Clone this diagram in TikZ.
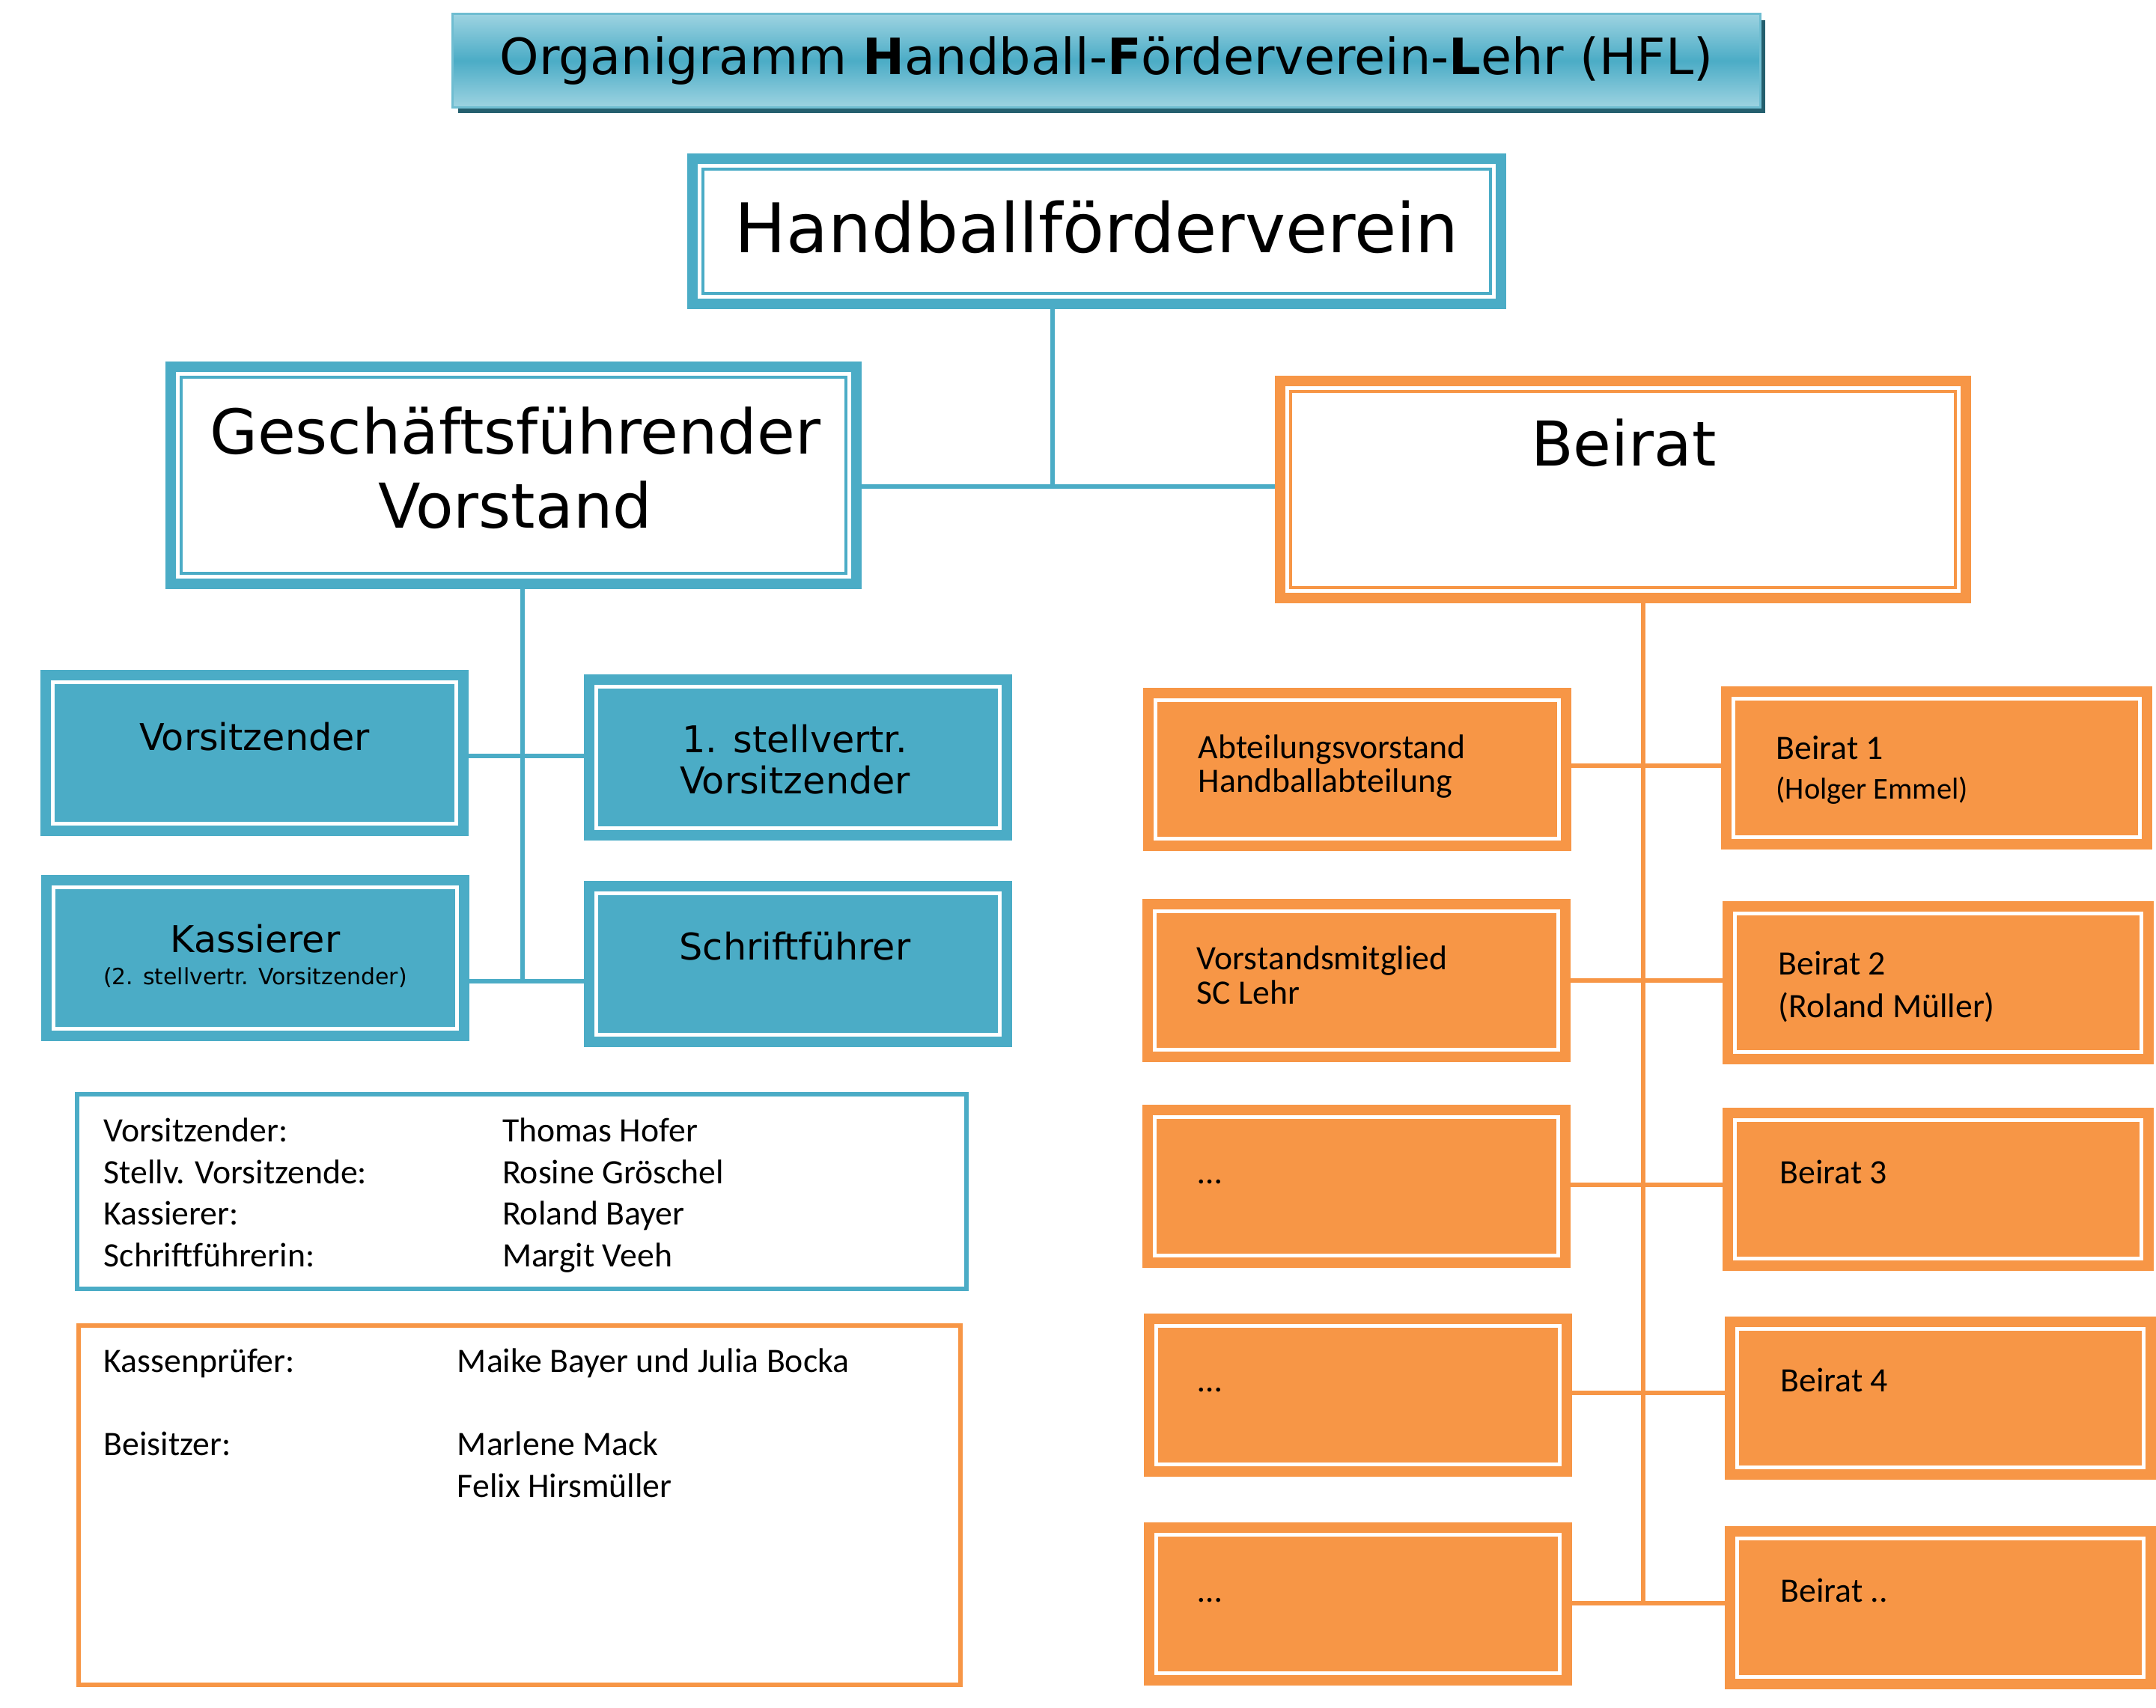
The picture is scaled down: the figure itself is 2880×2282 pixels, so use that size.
\documentclass[tikz,border=0pt]{standalone}
\usepackage{fontspec}
\setmainfont{DejaVu Sans}
\newfontfamily\calib{Carlito}
\usetikzlibrary{shadows}

\definecolor{hflblau}{HTML}{4BACC6}
\definecolor{hflhell}{HTML}{9DD3E1}
\definecolor{hfldunkel}{HTML}{245F6E}
\definecolor{hflorange}{HTML}{F79646}

\newcommand{\fsz}[2]{\fontsize{#1}{#2}\selectfont}

\begin{document}
\begin{tikzpicture}[
    x=0.01cm, y=-0.01cm,
    rahmen/.style={rectangle, draw=#1, line width=0.04cm, outer sep=0.215cm,
                   preaction={draw=#1, line width=0.43cm},
                   preaction={draw=white, line width=0.15cm}},
    weissbox/.style={rahmen=#1, fill=white},
    vollbox/.style={rahmen=#1, fill=#1},
    kleinb/.style={vollbox=hflblau, minimum width=5.29cm, minimum height=1.79cm},
    kleino/.style={vollbox=hflorange, minimum width=5.29cm, minimum height=1.75cm},
    kleinr/.style={vollbox=hflorange, minimum width=5.33cm, minimum height=1.75cm},
    liste/.style={rectangle, draw=#1, line width=0.06cm, fill=white},
    verb/.style={line width=0.06cm},
    gross/.style={font=\fsz{23.5}{28}, align=center},
    mittel/.style={font=\fsz{14}{15.6}, align=center},
    kal/.style={font=\calib\fsz{13}{13}, align=left, anchor=west, inner sep=0pt},
    kalb/.style={font=\calib\fsz{13}{13}, anchor=base west, inner sep=0pt},
  ]
  \useasboundingbox (0,0) rectangle (2880,2282);

  %% ===== Titel =====
  \node[rectangle, draw=hflblau!80, line width=0.03cm,
        top color=hflhell, bottom color=hflhell, middle color=hflblau,
        drop shadow={shadow xshift=0.07cm, shadow yshift=-0.08cm,
                     fill=hfldunkel, opacity=1},
        minimum width=17.45cm, minimum height=1.24cm, font=\fsz{19}{22}]
    (titel) at (1478,81) {Organigramm \textbf{H}andball-\textbf{F}örderverein-\textbf{L}ehr (HFL)};

  %% ===== obere Ebene =====
  \node[weissbox=hflblau, minimum width=10.51cm, minimum height=1.65cm] (hfv) at (1465,309) {};
  \node[font=\fsz{26}{30}] (hfvtext) at (1465,303) {Handballförderverein};

  \node[weissbox=hflblau, minimum width=8.87cm, minimum height=2.61cm] (gf) at (686,635) {};
  \node[gross] (gftext) at (688,625) {Geschäftsführender\\Vorstand};

  \node[weissbox=hflorange, minimum width=8.87cm, minimum height=2.61cm] (beirat) at (2168,654) {};
  \node[gross] (beirattext) at (2169,592) {Beirat};

  %% Verbindung oben
  \coordinate (k0) at (1406,650);
  \draw[verb, hflblau] (hfv.south -| k0) -- (k0);
  \draw[verb, hflblau] (gf.east |- k0) -- (beirat.west |- k0);

  %% ===== Geschäftsführender Vorstand (links) =====
  \node[kleinb] (vors)    at (340,1006)   {};
  \node[kleinb] (stv)     at (1066,1012)  {};
  \node[kleinb] (kass)    at (341,1280)   {};
  \node[kleinb] (schrift) at (1066,1288)  {};

  \node[mittel] (vorstext)    at (340,984)   {Vorsitzender};
  \node[mittel] (stvtext)     at (1062,1015) {1. stellvertr.\\Vorsitzender};
  \node[mittel] (kasstext)    at (341,1254)  {Kassierer};
  \node[font=\fsz{8.5}{10}] (kasszusatz) at (341,1306) {(2. stellvertr. Vorsitzender)};
  \node[mittel] (schrifttext) at (1062,1264) {Schriftführer};

  \coordinate (k1) at (698,1010);
  \coordinate (k2) at (698,1311);
  \draw[verb, hflblau] (gf.south -| k2) -- (k2);
  \draw[verb, hflblau] (vors.east |- k1) -- (stv.west |- k1);
  \draw[verb, hflblau] (kass.east |- k2) -- (schrift.west |- k2);

  %% Besetzung
  \node[liste=hflblau, minimum width=11.87cm, minimum height=2.60cm] (besetzung) at (697,1592) {};
  \node[anchor=north west, inner sep=0pt, font=\calib\fsz{13}{15.8}] (besetzungtext) at (138,1486)
    {\begin{tabular}{@{}p{5.32cm}@{}l@{}}
       Vorsitzender:        & Thomas Hofer\\
       Stellv. Vorsitzende: & Rosine Gröschel\\
       Kassierer:           & Roland Bayer\\
       Schriftführerin:     & Margit Veeh
     \end{tabular}};

  \node[liste=hflorange, minimum width=11.78cm, minimum height=4.80cm] (pruefer) at (694,2011) {};
  \node[anchor=north west, inner sep=0pt, font=\calib\fsz{13}{15.8}] (pruefertext) at (138,1794)
    {\begin{tabular}{@{}p{4.72cm}@{}l@{}}
       Kassenprüfer: & Maike Bayer und Julia Bocka\\
                     & \\
       Beisitzer:    & Marlene Mack\\
                     & Felix Hirsmüller
     \end{tabular}};

  %% ===== Beirat (rechts) =====
  \node[kleino] (abt)   at (1813,1028) {};
  \node[kleino] (vm)    at (1812,1310) {};
  \node[kleino] (p3)    at (1812,1585) {};
  \node[kleino] (p4)    at (1814,1864) {};
  \node[kleino] (p5)    at (1814,2143) {};
  \node[kleinr] (bei1)  at (2587,1026) {};
  \node[kleinr] (bei2)  at (2589,1313) {};
  \node[kleinr] (bei3)  at (2589,1589) {};
  \node[kleinr] (bei4)  at (2592,1868) {};
  \node[kleinr] (bei5)  at (2592,2148) {};

  \node[kal] (abttext) at (1600,1024) {Abteilungsvorstand\\Handballabteilung};
  \node[kal] (vmtext)  at (1598,1303) {Vorstandsmitglied\\SC Lehr};
  \node[kalb] (p3text) at (1600,1581) {…};
  \node[kalb] (p4text) at (1600,1859) {…};
  \node[kalb] (p5text) at (1600,2140) {…};

  \node[kal, font=\calib\fsz{13}{15}] (bei1text) at (2372,1029)
    {Beirat 1\\{\fsz{11.5}{13}(Holger Emmel)}};
  \node[kal, font=\calib\fsz{13}{16.2}] (bei2text) at (2375,1318) {Beirat 2\\(Roland Müller)};
  \node[kalb] (bei3text) at (2377,1581) {Beirat 3};
  \node[kalb] (bei4text) at (2378,1859) {Beirat 4};
  \node[kalb] (bei5text) at (2378,2140) {Beirat ..};

  %% Stamm und Äste
  \coordinate (o1) at (2195,1023);
  \coordinate (o2) at (2195,1310);
  \coordinate (o3) at (2195,1583);
  \coordinate (o4) at (2195,1861);
  \coordinate (o5) at (2195,2142);
  \draw[verb, hflorange] (beirat.south -| o5) -- (o5);
  \draw[verb, hflorange] (abt.east |- o1) -- (bei1.west |- o1);
  \draw[verb, hflorange] (vm.east |- o2)  -- (bei2.west |- o2);
  \draw[verb, hflorange] (p3.east |- o3)  -- (bei3.west |- o3);
  \draw[verb, hflorange] (p4.east |- o4)  -- (bei4.west |- o4);
  \draw[verb, hflorange] (p5.east |- o5)  -- (bei5.west |- o5);

\end{tikzpicture}
\end{document}
